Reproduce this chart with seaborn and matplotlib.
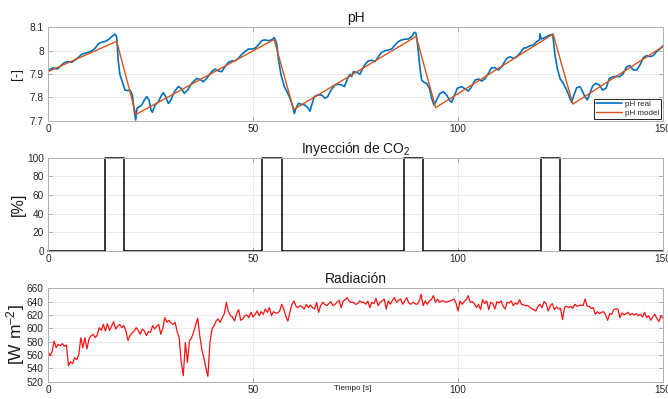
import matplotlib
matplotlib.use("Agg")
import matplotlib.pyplot as plt
from matplotlib.ticker import FuncFormatter
import numpy as np
import pandas as pd
import seaborn as sns

# ---------------- data ----------------
ph_real_time = [
    0.0, 0.5, 1.3, 2.1, 2.7, 3.3, 4.15, 4.96, 5.77, 6.59, 7.4, 8.21, 9.02, 9.84, 10.65,
    11.46, 12.28, 13.09, 13.9, 14.72, 15.53, 16.34, 16.75, 17.15, 17.56, 18.13, 18.78,
    19.43, 20.0, 20.57, 21.06, 21.38, 21.71, 22.28, 22.85, 23.66, 24.07, 24.63, 25.12,
    25.45, 26.1, 26.91, 27.72, 28.13, 28.7, 29.35, 30.0, 30.81, 31.79, 32.44, 33.25,
    34.07, 35.04, 36.26, 37.07, 37.89, 38.7, 39.92, 40.73, 41.54, 42.36, 43.17, 43.98,
    44.8, 45.61, 46.42, 47.24, 48.05, 48.86, 49.67, 50.49, 51.3, 52.11, 52.93, 53.74,
    54.55, 55.2, 55.77, 56.18, 56.83, 57.64, 58.46, 59.02, 59.59, 60.08, 60.41, 61.06,
    61.87, 62.68, 63.5, 63.9, 64.31, 64.96, 65.77, 66.75, 67.56, 68.21, 69.02, 70.0,
    70.81, 71.63, 72.28, 73.09, 73.66, 74.07, 74.47, 75.28, 76.1, 76.75, 77.32, 78.13,
    78.94, 79.76, 80.57, 81.38, 82.2, 83.01, 83.82, 84.63, 85.45, 86.26, 87.07, 87.89,
    88.7, 89.35, 89.76, 90.16, 90.73, 91.14, 91.71, 92.36, 93.01, 93.58, 94.15, 94.8,
    95.61, 96.42, 97.24, 98.05, 98.46, 99.02, 99.84, 100.89, 101.71, 102.52, 103.33,
    104.15, 104.96, 105.77, 106.59, 107.4, 108.21, 109.02, 109.84, 110.65, 111.87,
    112.68, 113.5, 114.31, 115.12, 115.93, 116.75, 117.56, 118.37, 119.19, 119.84,
    120.0, 120.3, 120.81, 121.63, 122.44, 123.09, 123.66, 124.23, 124.88, 125.69,
    126.5, 127.15, 127.72, 128.29, 128.94, 129.76, 130.41, 130.98, 131.54, 132.03,
    132.85, 133.66, 134.47, 135.28, 136.1, 136.91, 137.89, 138.7, 139.51, 140.33,
    141.14, 141.95, 142.76, 143.58, 144.39, 145.2, 146.02, 146.83, 147.64, 148.46,
    149.27, 150.0,
]
ph_real_values = [
    7.910, 7.920, 7.927, 7.921, 7.927, 7.939, 7.950, 7.953, 7.950, 7.960, 7.971, 7.984,
    7.989, 7.993, 7.999, 8.010, 8.029, 8.036, 8.039, 8.047, 8.060, 8.071, 8.060, 7.953,
    7.896, 7.867, 7.831, 7.829, 7.831, 7.810, 7.739, 7.703, 7.753, 7.760, 7.767, 7.793,
    7.803, 7.789, 7.746, 7.736, 7.767, 7.781, 7.810, 7.820, 7.803, 7.774, 7.789, 7.824,
    7.846, 7.839, 7.817, 7.831, 7.860, 7.881, 7.877, 7.867, 7.881, 7.910, 7.921, 7.913,
    7.910, 7.931, 7.950, 7.956, 7.956, 7.967, 7.984, 7.996, 8.007, 8.007, 8.010, 8.024,
    8.043, 8.046, 8.043, 8.046, 8.056, 8.031, 7.967, 7.896, 7.846, 7.817, 7.796, 7.767,
    7.731, 7.750, 7.774, 7.770, 7.767, 7.753, 7.741, 7.767, 7.803, 7.810, 7.810, 7.796,
    7.803, 7.831, 7.853, 7.856, 7.853, 7.846, 7.881, 7.899, 7.889, 7.910, 7.907, 7.899,
    7.924, 7.941, 7.956, 7.959, 7.953, 7.974, 7.993, 7.999, 8.003, 8.007, 8.024, 8.039,
    8.046, 8.049, 8.050, 8.060, 8.079, 8.074, 8.024, 7.924, 7.874, 7.864, 7.860, 7.839,
    7.796, 7.767, 7.789, 7.817, 7.824, 7.810, 7.784, 7.779, 7.803, 7.839, 7.846, 7.836,
    7.827, 7.846, 7.874, 7.879, 7.870, 7.879, 7.903, 7.927, 7.927, 7.917, 7.931, 7.967,
    7.974, 7.967, 7.974, 7.989, 8.010, 8.013, 8.021, 8.024, 8.039, 8.045, 8.072, 8.050,
    8.053, 8.060, 8.067, 8.070, 7.981, 7.924, 7.881, 7.860, 7.831, 7.803, 7.779, 7.810,
    7.841, 7.846, 7.824, 7.803, 7.789, 7.810, 7.849, 7.860, 7.853, 7.831, 7.839, 7.881,
    7.889, 7.889, 7.889, 7.903, 7.931, 7.936, 7.917, 7.917, 7.939, 7.970, 7.979, 7.974,
    7.979, 7.996, 8.007, 8.021,
]

ph_model_time = [0.0, 16.75, 21.45, 55.15, 59.9, 89.8, 94.55, 123.2, 128.0, 150.0]
ph_model_values = [7.910, 8.040, 7.727, 8.048, 7.748, 8.061, 7.756, 8.071, 7.771, 8.018]

co2_time = [0.0, 13.8, 18.6, 52.3, 57.0, 86.8, 91.5, 120.2, 124.9, 150.0]
co2_values = [0, 100, 0, 100, 0, 100, 0, 100, 0, 0]

# irradiance sampled every 0.5 s from t = 0 to t = 150
rad_step = 0.5
rad_values = [
    566, 559, 565, 581, 571, 576, 574, 577, 573, 575, 544,
    550, 547, 556, 553, 560, 586, 571, 586, 569, 584,
    589, 591, 586, 590, 601, 597, 606, 596, 607, 597,
    603, 610, 599, 603, 606, 601, 604, 596, 582, 589,
    593, 596, 601, 597, 591, 599, 596, 589, 595, 594,
    604, 599, 603, 606, 591, 600, 616, 609, 612, 608,
    606, 609, 595, 586, 549, 529, 579, 549, 581, 586,
    594, 605, 615, 590, 569, 556, 541, 528, 579, 599,
    604, 611, 614, 609, 616, 622, 639, 625, 619, 617,
    611, 622, 628, 612, 614, 619, 620, 616, 624, 617,
    621, 626, 619, 625, 621, 629, 624, 631, 619, 625,
    623, 623, 626, 636, 629, 618, 611, 624, 636, 641,
    633, 631, 634, 632, 629, 636, 631, 635, 631, 629,
    639, 624, 634, 639, 636, 634, 637, 640, 634, 636,
    639, 642, 631, 641, 643, 646, 640, 639, 639, 636,
    637, 641, 639, 639, 636, 641, 631, 639, 637, 645,
    634, 639, 641, 644, 629, 641, 636, 642, 646, 639,
    642, 644, 636, 641, 646, 638, 636, 639, 637, 636,
    640, 651, 634, 641, 636, 641, 643, 649, 639, 644,
    639, 641, 641, 639, 640, 641, 642, 644, 638, 626,
    641, 636, 640, 643, 649, 639, 640, 637, 631, 636,
    628, 643, 637, 641, 628, 639, 637, 629, 640, 638,
    641, 633, 629, 639, 638, 641, 634, 638, 636, 643,
    636, 635, 634, 634, 632, 629, 628, 626, 633, 636,
    631, 640, 637, 626, 634, 637, 628, 632, 629, 630,
    613, 632, 633, 631, 633, 630, 636, 633, 634, 635,
    634, 644, 633, 633, 630, 631, 621, 625, 622, 624,
    625, 620, 612, 622, 621, 628, 629, 629, 616, 623,
    620, 622, 624, 620, 622, 620, 622, 619, 621, 617,
    624, 616, 619, 612, 617, 621, 615, 610, 619, 615,
]

x_ticks = [0, 50, 100, 150]
ph_ticks = [7.7, 7.8, 7.9, 8.0, 8.1]
co2_ticks = [0, 20, 40, 60, 80, 100]
rad_ticks = [520, 540, 560, 580, 600, 620, 640, 660]

# ---------------- style ----------------
sns.set_theme(style="whitegrid")
plt.rcParams["font.family"] = ["Liberation Sans", "DejaVu Sans"]
plt.rcParams["mathtext.fontset"] = "custom"
plt.rcParams["mathtext.rm"] = "Liberation Sans"
plt.rcParams["mathtext.it"] = "Liberation Sans"

BLUE = "#0072BD"
ORANGE = "#D95319"
RED = "#FF1010"

fig = plt.figure(figsize=(6.68, 3.99), dpi=100)
left, width, height = 48 / 668, 615 / 668, 93.4 / 399
ax_ph = fig.add_axes([left, 1 - 120.7 / 399, width, height])
ax_co2 = fig.add_axes([left, 1 - 251.0 / 399, width, height])
ax_rad = fig.add_axes([left, 1 - 381.7 / 399, width, height])

fmt = FuncFormatter(lambda v, p: f"{v:g}")


def style_axes(ax, yticks, ylim, title, ylabel, ylabel_size, label_x):
    ax.set_xlim(0, 150)
    ax.set_ylim(*ylim)
    ax.set_xticks(x_ticks)
    ax.set_yticks(yticks)
    ax.xaxis.set_major_formatter(fmt)
    ax.yaxis.set_major_formatter(fmt)
    ax.grid(True, color="#e6e6e6", linewidth=0.6)
    ax.tick_params(axis="both", direction="in", length=3, width=0.6,
                   color="#a0a0a0", labelsize=7.3, labelcolor="#262626",
                   top=True, right=True, bottom=True, left=True)
    ax.tick_params(axis="x", pad=2.5)
    ax.tick_params(axis="y", pad=3)
    for s in ax.spines.values():
        s.set_visible(True)
        s.set_color("#b0b0b0")
        s.set_linewidth(0.7)
    ax.set_xlabel("")
    ax.set_title(title, fontsize=10, color="#1a1a1a", pad=3.5)
    ax.set_ylabel(ylabel, fontsize=ylabel_size, color="#1a1a1a", va="center")
    ax.yaxis.set_label_coords(label_x, 0.5)


# pH panel
sns.lineplot(x=ph_real_time, y=ph_real_values, ax=ax_ph, color=BLUE,
             linewidth=1.2, label="pH real", sort=False)
sns.lineplot(x=ph_model_time, y=ph_model_values, ax=ax_ph, color=ORANGE,
             linewidth=1.0, label="pH model", sort=False)
style_axes(ax_ph, ph_ticks, (7.7, 8.1), "pH", "[-]", 9.5, -0.05)
leg = ax_ph.legend(loc="lower right", fontsize=5.8, frameon=True, fancybox=False,
                   edgecolor="black", framealpha=1, borderaxespad=0.25,
                   handlelength=3.2, labelspacing=0.1, borderpad=0.25,
                   handletextpad=0.4)
leg.get_frame().set_linewidth(0.6)

# CO2 injection panel
sns.lineplot(x=co2_time, y=co2_values, ax=ax_co2, color="black",
             linewidth=1.1, drawstyle="steps-post", clip_on=False)
style_axes(ax_co2, co2_ticks, (0, 100), "Inyección de CO$_2$", "[%]", 11.5, -0.048)

# radiation panel
rad_time = np.arange(len(rad_values)) * rad_step
rad_df = pd.DataFrame({"t": rad_time, "rad": rad_values})
sns.lineplot(data=rad_df, x="t", y="rad", ax=ax_rad, color=RED, linewidth=0.9)
style_axes(ax_rad, rad_ticks, (520, 660), "Radiación", "[W m$^{-2}$]", 12.5, -0.052)

fig.text(353 / 668, 1 - 389 / 399, "Tiempo [s]", fontsize=5.8,
         ha="center", va="center", color="#1a1a1a")

fig.savefig("out.png", dpi=100)
